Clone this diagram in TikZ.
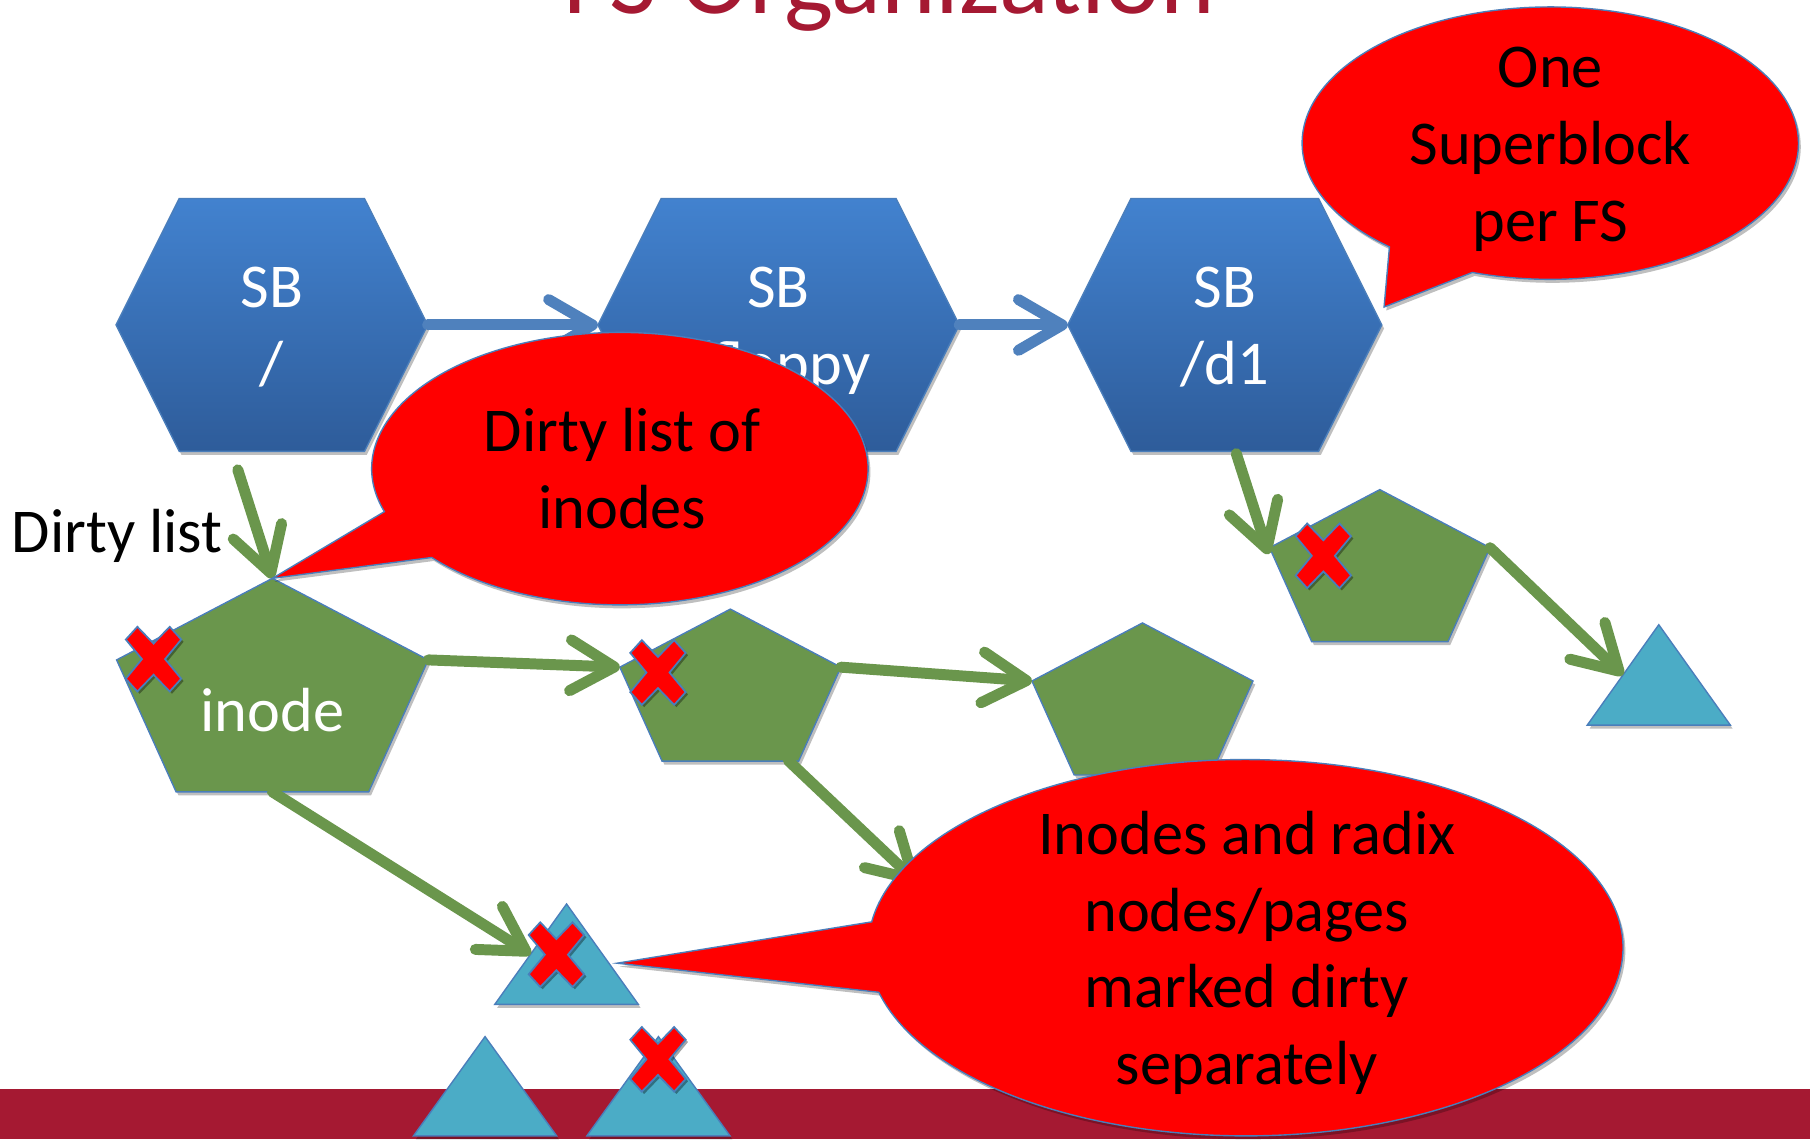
\documentclass[tikz,border=0pt]{standalone}
\usepackage{fontspec}
\setmainfont{Carlito}
\usetikzlibrary{arrows.meta,shadows,calc}

\definecolor{cardinal}{RGB}{165,25,50}
\definecolor{sbtop}{RGB}{66,130,207}
\definecolor{sbbot}{RGB}{46,92,154}
\definecolor{edgeblue}{RGB}{74,126,187}
\definecolor{inodegreen}{RGB}{106,150,76}
\definecolor{pagecyan}{RGB}{75,172,198}
\definecolor{linkblue}{RGB}{79,129,189}

\tikzset{
  softshadow/.style={drop shadow={opacity=0.25, shadow xshift=2pt, shadow yshift=-3pt, fill=black}},
  sbshape/.style={top color=sbtop, bottom color=sbbot, draw=edgeblue, line width=1.2pt, softshadow},
  inodeshape/.style={fill=inodegreen, draw=edgeblue, line width=1.2pt, softshadow},
  pageshape/.style={fill=pagecyan, draw=edgeblue, line width=1.2pt, softshadow},
  bubble/.style={fill=red, draw=edgeblue, line width=1.2pt, softshadow},
  crossshape/.style={fill=red, draw=edgeblue, line width=1.5pt,
    drop shadow={opacity=0.35, shadow xshift=2pt, shadow yshift=-2pt, fill=black}},
  link/.style={line width=9.5pt, line cap=round, -{Straight Barb[length=38pt,width=44pt,round]}},
  ptr/.style={link, draw=inodegreen},
  sblink/.style={link, draw=linkblue},
  % multi-line labels: anchor=base sits on the last line's baseline
  txt/.style={font=\fontsize{54}{66.5}\selectfont, align=center, anchor=base, inner sep=0pt},
  % superblock: flat-topped hexagon of width #1 and height #2
  pics/sbhex/.style 2 args={code={
    \pgfmathsetmacro\hexin{0.25*min(#1,#2)}
    \path[sbshape] ({-#1/2},0) -- ({-#1/2+\hexin},{-#2/2}) -- ({#1/2-\hexin},{-#2/2})
      -- ({#1/2},0) -- ({#1/2-\hexin},{#2/2}) -- ({-#1/2+\hexin},{#2/2}) -- cycle;
    \coordinate (-w) at ({-#1/2},0);
    \coordinate (-e) at ({#1/2},0);
    \coordinate (-s) at (0,{#2/2});
  }},
  % inode: pentagon in a #1 x #2 box
  pics/inodepent/.style 2 args={code={
    \path[inodeshape] (0,{-#2/2}) -- ({#1/2},{-0.118*#2}) -- ({0.309*#1},{#2/2})
      -- ({-0.309*#1},{#2/2}) -- ({-#1/2},{-0.118*#2}) -- cycle;
    \coordinate (-n) at (0,{-#2/2});
    \coordinate (-e) at ({#1/2},{-0.118*#2});
    \coordinate (-w) at ({-#1/2},{-0.118*#2});
    \coordinate (-s) at (0,{#2/2});
  }},
  % radix node / page: triangle in a #1 x #2 box
  pics/pagetri/.style 2 args={code={
    \path[pageshape] (0,{-#2/2}) -- ({#1/2},{#2/2}) -- ({-#1/2},{#2/2}) -- cycle;
    \coordinate (-n) at (0,{-#2/2});
    \coordinate (-wm) at ({-#1/4},0);
  }},
  % dirty marker
  pics/dirtyx/.style={code={
    \path[crossshape] (0,13.5) -- (14,28) -- (24,17) -- (10,0) -- (24,-17) -- (14,-28)
      -- (0,-13.5) -- (-14,-28) -- (-24,-17) -- (-10,0) -- (-24,17) -- (-14,28) -- cycle;
  }}
}

\begin{document}
\begin{tikzpicture}[x=1pt,y=-1pt]
\useasboundingbox (0,0) rectangle (1568,987);
\fill[white] (0,0) rectangle (1568,987);
\fill[cardinal] (0,943) rectangle (1568,987);

\node[font=\fontsize{90}{108}\selectfont, text=cardinal, anchor=base, inner sep=0pt]
  (title) at (770.5,11.5) {FS Organization};

% superblocks
\pic (h1) at (235.5,281.5) {sbhex={270}{219}};
\pic (h2) at (674.5,281.5) {sbhex={313}{219}};
\pic (h3) at (1061,281.5) {sbhex={272}{219}};
\node[txt, text=white] (sb1) at (235.5,333) {SB\\/};
\node[txt, text=white] (sb2) at (674.5,333) {SB\\/floppy};
\node[txt, text=white] (sb3) at (1061,333) {SB\\/d1};

% inodes
\pic (p1) at (236,593.5) {inodepent={270}{185}};
\pic (p2) at (632.7,593.5) {inodepent={191.5}{131.7}};
\pic (p3) at (989.7,605.5) {inodepent={191.5}{131.7}};
\pic (p4) at (1195.3,490) {inodepent={191}{131.7}};

% radix nodes / pages
\pic (t1) at (1437,584.7) {pagetri={124}{87}};
\pic (t2) at (490.8,826.6) {pagetri={124.4}{87}};
\pic (t3) at (420.2,941) {pagetri={124}{86}};
\pic (t4) at (570.4,941) {pagetri={124}{86}};

% links
\coordinate (dl) at (206,407);
\coordinate (g5a) at (683,659);
\coordinate (g5b) at (795,765);
\coordinate (g6a) at (1071,393);
\coordinate (g6b) at (1099,480);
\draw[sblink] (h1-e) -- (h2-w);
\draw[sblink] (h2-e) -- (h3-w);
\draw[ptr] (dl) -- (p1-n);
\draw[ptr] (p1-e) -- (p2-w);
\draw[ptr] (p2-e) -- (p3-w);
\draw[ptr] (p1-s) -- (t2-wm);
\draw[ptr] (g5a) -- (g5b);
\draw[ptr] (g6a) -- (g6b);
\draw[ptr] (p4-e) -- (t1-wm);

% dirty markers
\pic (x1) at (133,571) {dirtyx};
\pic (x2) at (570,582.6) {dirtyx};
\pic (x3) at (482,827) {dirtyx};
\pic (x4) at (570,917.7) {dirtyx};
\pic (x5) at (1146.4,481.5) {dirtyx};

\node[txt, text=white] (inodelbl) at (236,633.6) {inode};
\node[txt, anchor=base west] (dirty) at (10,479) {Dirty list};

% callouts
\coordinate (c1) at (1343,124);
\coordinate (c1tip) at (1199,266);
\path[bubble] ($(c1)+(130.4:215 and 118)$) arc[start angle=130.4, end angle=468.3, x radius=215, y radius=118] -- (c1tip) -- cycle;
\node[txt] (msg1) at (1343,209) {One\\Superblock\\per FS};

\coordinate (c2) at (537,406);
\path[bubble] ($(c2)+(161.6:215 and 118)$) arc[start angle=161.6, end angle=499.3, x radius=215, y radius=118] -- (p1-n) -- cycle;
\node[txt] (msg2) at (539,457.7) {Dirty list of\\inodes};

\coordinate (c3) at (1079,821);
\coordinate (c3tip) at (534.6,834.4);
\path[bubble] ($(c3)+(187.9:327 and 163)$) arc[start angle=187.9, end angle=526.3, x radius=327, y radius=163] -- (c3tip) -- cycle;
\node[txt] (msg3) at (1080,939.6) {Inodes and radix\\nodes/pages\\marked dirty\\separately};
\end{tikzpicture}
\end{document}
